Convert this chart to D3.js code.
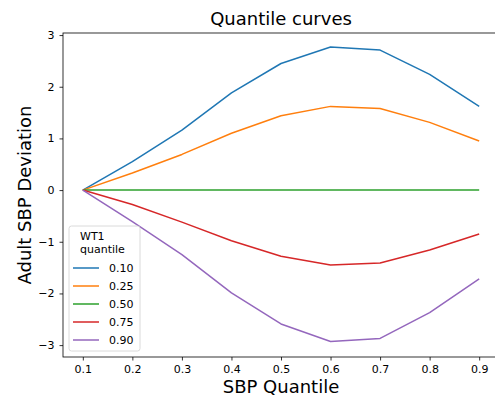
<!DOCTYPE html>
<html>
<head>
<meta charset="utf-8">
<script src="https://cdn.jsdelivr.net/npm/d3@7"></script>
<style>
body { margin: 0; background: #fff; }
svg { font-family: "DejaVu Sans", sans-serif; }
</style>
</head>
<body>
<div id="chart"></div>
<script>
var svgWidth = 495;
var svgHeight = 400;

// data
var sbpQuantiles = [0.1, 0.2, 0.3, 0.4, 0.5, 0.6, 0.7, 0.8, 0.9];
var wt1Labels = ["0.10", "0.25", "0.50", "0.75", "0.90"];
var q10 = [0, 0.55, 1.16, 1.88, 2.45, 2.77, 2.71, 2.24, 1.62];
var q25 = [0, 0.33, 0.69, 1.10, 1.44, 1.62, 1.58, 1.31, 0.95];
var q50 = [0, 0, 0, 0, 0, 0, 0, 0, 0];
var q75 = [0, -0.28, -0.62, -0.98, -1.28, -1.45, -1.41, -1.16, -0.85];
var q90 = [0, -0.61, -1.25, -1.99, -2.59, -2.93, -2.87, -2.37, -1.72];
var yTicks = [-3, -2, -1, 0, 1, 2, 3];
var colors = ["#1f77b4", "#ff7f0e", "#2ca02c", "#d62728", "#9467bd"];

var seriesList = [q10, q25, q50, q75, q90];

var margin = { top: 33, right: -4, bottom: 43, left: 63 };
var width = svgWidth - margin.left - margin.right;
var height = svgHeight - margin.top - margin.bottom;

var svg = d3.select("#chart")
    .append("svg")
    .attr("width", svgWidth)
    .attr("height", svgHeight);

var chartGroup = svg.append("g")
    .attr("transform", `translate(${margin.left}, ${margin.top})`);

// scales
var xScale = d3.scaleLinear()
    .domain([0.06, 0.94])
    .range([0, width]);

var yScale = d3.scaleLinear()
    .domain([-3.23, 3.04])
    .range([height, 0]);

// axes
var bottomAxis = d3.axisBottom(xScale)
    .tickValues(sbpQuantiles)
    .tickFormat(d3.format(".1f"))
    .tickSize(3.5)
    .tickPadding(5);
var leftAxis = d3.axisLeft(yScale)
    .tickValues(yTicks)
    .tickFormat(d => d < 0 ? "\u2212" + Math.abs(d) : d)
    .tickSize(3.5)
    .tickPadding(5);

var xAxisG = chartGroup.append("g")
    .attr("transform", `translate(0, ${height})`)
    .call(bottomAxis);
var yAxisG = chartGroup.append("g")
    .call(leftAxis);

[xAxisG, yAxisG].forEach(function(g) {
    g.select(".domain").remove();
    g.selectAll("text").attr("font-size", 11).attr("fill", "#000")
        .attr("font-family", "DejaVu Sans, sans-serif");
    g.selectAll("line").attr("stroke", "#000").attr("stroke-width", 0.8);
});

// lines
var line = d3.line()
    .x((d, i) => xScale(sbpQuantiles[i]))
    .y(d => yScale(d));

seriesList.forEach(function(s, k) {
    chartGroup.append("path")
        .datum(s)
        .attr("fill", "none")
        .attr("stroke", colors[k])
        .attr("stroke-width", 1.5)
        .attr("stroke-linejoin", "round")
        .attr("d", line);
});

// frame
chartGroup.append("rect")
    .attr("width", width)
    .attr("height", height)
    .attr("fill", "none")
    .attr("stroke", "#000")
    .attr("stroke-width", 0.8);

// legend
var legend = chartGroup.append("g")
    .attr("transform", "translate(6, 193)");

legend.append("rect")
    .attr("width", 71)
    .attr("height", 125)
    .attr("rx", 2.5)
    .attr("fill", "#fff")
    .attr("fill-opacity", 0.8)
    .attr("stroke", "#d0d0d0")
    .attr("stroke-width", 0.8);

legend.append("text")
    .attr("x", 11)
    .attr("y", 13.5)
    .attr("font-size", 11)
    .text("WT1");
legend.append("text")
    .attr("x", 11)
    .attr("y", 27)
    .attr("font-size", 11)
    .text("quantile");

wt1Labels.forEach(function(lab, k) {
    var yy = 42 + k * 18;
    legend.append("line")
        .attr("x1", 4).attr("x2", 30)
        .attr("y1", yy).attr("y2", yy)
        .attr("stroke", colors[k])
        .attr("stroke-width", 1.5);
    legend.append("text")
        .attr("x", 40)
        .attr("y", yy + 4)
        .attr("font-size", 11)
        .text(lab);
});

// title and labels
svg.append("text")
    .attr("x", margin.left + width / 2)
    .attr("y", 25)
    .attr("text-anchor", "middle")
    .attr("font-size", 18)
    .text("Quantile curves");

svg.append("text")
    .attr("x", margin.left + width / 2)
    .attr("y", 393)
    .attr("text-anchor", "middle")
    .attr("font-size", 18)
    .text("SBP Quantile");

svg.append("text")
    .attr("transform", "rotate(-90)")
    .attr("x", -(margin.top + height / 2))
    .attr("y", 31)
    .attr("text-anchor", "middle")
    .attr("font-size", 18)
    .text("Adult SBP Deviation");
</script>
</body>
</html>
